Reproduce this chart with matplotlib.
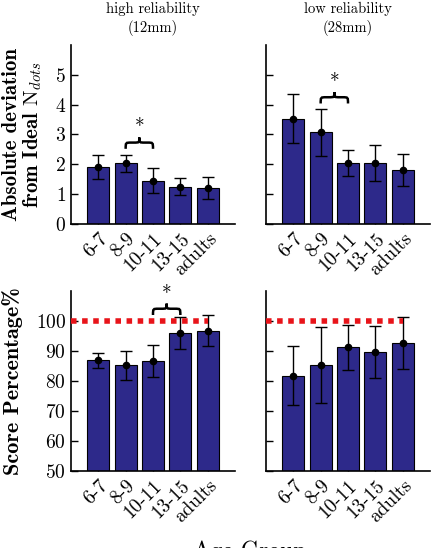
import numpy as np
import matplotlib
matplotlib.use("Agg")
import matplotlib.pyplot as plt
from matplotlib.path import Path
from matplotlib.patches import PathPatch

plt.rcParams["font.family"] = "cmr10"
plt.rcParams["mathtext.fontset"] = "cm"
plt.rcParams["axes.unicode_minus"] = False
plt.rcParams["axes.formatter.use_mathtext"] = True

groups = ["6-7", "8-9", "10-11", "13-15", "adults"]

# absolute deviation from ideal N_dots
dev_high = [1.90, 2.03, 1.45, 1.25, 1.20]
dev_high_err = [0.40, 0.28, 0.42, 0.29, 0.36]
dev_low = [3.53, 3.08, 2.05, 2.05, 1.80]
dev_low_err = [0.82, 0.79, 0.43, 0.60, 0.53]

# score percentage
score_high = [87.0, 85.2, 86.7, 96.0, 96.8]
score_high_err = [2.5, 4.7, 5.2, 5.4, 5.1]
score_low = [81.8, 85.3, 91.2, 89.7, 92.7]
score_low_err = [9.8, 12.7, 7.6, 8.6, 8.8]

# significance markers: (bar a, bar b, brace base, brace size)
sig_dev_high = (1, 2, 2.52, 0.38)
sig_dev_low = (1, 2, 4.04, 0.38)
sig_score_high = (2, 3, 102.0, 3.8)

BAR = "#2d298a"


def brace(ax, x1, x2, y, h):
    xm = (x1 + x2) / 2
    q = 0.2 * (x2 - x1)
    ym = y + h * 0.55
    verts = [(x1, y), (x1, ym), (x1, ym), (x1 + q, ym),
             (xm - q, ym),
             (xm, ym), (xm, ym), (xm, y + h),
             (xm, ym), (xm, ym), (xm + q, ym),
             (x2 - q, ym),
             (x2, ym), (x2, ym), (x2, y)]
    codes = [Path.MOVETO, Path.CURVE4, Path.CURVE4, Path.CURVE4,
             Path.LINETO,
             Path.CURVE4, Path.CURVE4, Path.CURVE4,
             Path.CURVE4, Path.CURVE4, Path.CURVE4,
             Path.LINETO,
             Path.CURVE4, Path.CURVE4, Path.CURVE4]
    ax.add_patch(PathPatch(Path(verts, codes), fill=False, lw=1.8, color="black"))
    ax.text(xm, y + h * 1.0, "*", ha="center", va="bottom", fontsize=14)


def panel(ax, vals, errs, ylim, yticks, show_labels):
    x = np.arange(len(groups))
    ax.bar(x, vals, width=0.8, color=BAR, edgecolor="black", linewidth=0.8, zorder=2)
    ax.errorbar(x, vals, yerr=errs, fmt="o", color="black", ms=4.5,
                elinewidth=1.0, capsize=4, capthick=1.0, zorder=3)
    ax.set_xlim(-1, 5)
    ax.set_ylim(*ylim)
    ax.set_yticks(yticks)
    ax.set_xticks(x)
    ax.set_xticklabels(groups, rotation=45, ha="right", rotation_mode="anchor",
                       fontsize=13)
    for s in ["top", "right"]:
        ax.spines[s].set_visible(False)
    ax.spines["left"].set_linewidth(1.2)
    ax.spines["bottom"].set_linewidth(1.2)
    ax.tick_params(direction="in", length=5, width=1.0, labelsize=14)
    ax.tick_params(axis="x", pad=4)
    if not show_labels:
        ax.set_yticklabels([])


fig = plt.figure(figsize=(4.36, 5.48), dpi=100)

W, H = 436, 548
ax1 = fig.add_axes([71 / W, 1 - 224 / H, 164 / W, 179 / H])
ax2 = fig.add_axes([266 / W, 1 - 224 / H, 164 / W, 179 / H])
ax3 = fig.add_axes([71 / W, 1 - 471 / H, 164 / W, 180 / H])
ax4 = fig.add_axes([266 / W, 1 - 471 / H, 164 / W, 180 / H])

panel(ax1, dev_high, dev_high_err, (0, 6), range(0, 6), True)
panel(ax2, dev_low, dev_low_err, (0, 6), range(0, 6), False)
panel(ax3, score_high, score_high_err, (50, 110), range(50, 101, 10), True)
panel(ax4, score_low, score_low_err, (50, 110), range(50, 101, 10), False)

for ax in (ax3, ax4):
    ax.hlines(100, -1, 4, colors="#e8141a", linestyles=(0, (1, 1)), lw=4, zorder=4)

for ax, sig in ((ax1, sig_dev_high), (ax2, sig_dev_low), (ax3, sig_score_high)):
    a, b, y, h = sig
    brace(ax, a, b, y, h)

ax1.set_title("high reliability\n(12mm)", fontsize=10.5, pad=9, linespacing=1.35)
ax2.set_title("low reliability\n(28mm)", fontsize=10.5, pad=9, linespacing=1.35)

ax1.set_ylabel("Absolute deviation\nfrom Ideal $\\mathrm{N}_{dots}$",
               family="cmb10", fontsize=15, linespacing=1.05)
ax1.yaxis.set_label_coords(-0.165, 0.5)
ax3.set_ylabel("Score Percentage%", family="cmb10", fontsize=16)
ax3.yaxis.set_label_coords(-0.29, 0.5)

fig.text(250 / W, 1 - 552 / H, "Age Group", ha="center", va="center", fontsize=17)

fig.savefig("out.png", dpi=100)
